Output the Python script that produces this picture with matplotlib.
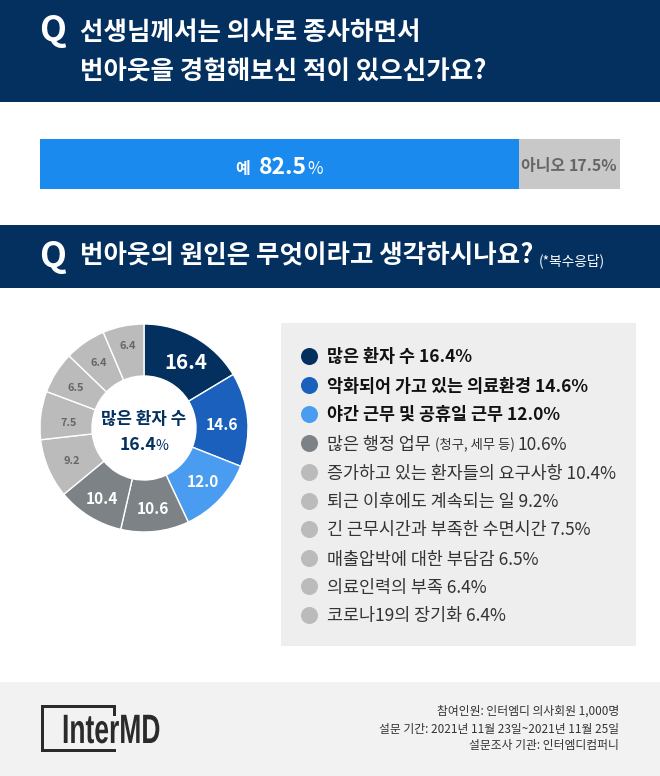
import matplotlib
matplotlib.use("Agg")
import matplotlib.pyplot as plt
from matplotlib.patches import Rectangle
from matplotlib.patheffects import AbstractPathEffect
from matplotlib.transforms import Affine2D

KR = ['Noto Sans CJK KR', 'DejaVu Sans']
plt.rcParams['font.family'] = KR

# ---- data ----
q1_lines = ["선생님께서는 의사로 종사하면서", "번아웃을 경험해보신 적이 있으신가요?"]
q2_title = "번아웃의 원인은 무엇이라고 생각하시나요?"
q2_note = "(*복수응답)"
bar_labels = ["예", "아니오"]
bar_values = [82.5, 17.5]
bar_colors = ["#1B8AEE", "#C8C8C8"]
cause_names = ["많은 환자 수", "악화되어 가고 있는 의료환경", "야간 근무 및 공휴일 근무", "많은 행정 업무",
               "증가하고 있는 환자들의 요구사항", "퇴근 이후에도 계속되는 일", "긴 근무시간과 부족한 수면시간",
               "매출압박에 대한 부담감", "의료인력의 부족", "코로나19의 장기화"]
cause_notes = ["", "", "", "(청구, 세무 등)", "", "", "", "", "", ""]
cause_values = [16.4, 14.6, 12.0, 10.6, 10.4, 9.2, 7.5, 6.5, 6.4, 6.4]
pie_colors = ["#03305F", "#1A60BC", "#4A9CF0", "#7C8285", "#7C8285",
              "#BBBBBB", "#BBBBBB", "#BBBBBB", "#BBBBBB", "#BBBBBB"]
dot_colors = ["#03305F", "#1A60BC", "#4A9CF0", "#7C8285", "#BBBBBB",
              "#BBBBBB", "#BBBBBB", "#BBBBBB", "#BBBBBB", "#BBBBBB"]
footer_lines = ["참여인원: 인터엠디 의사회원 1,000명", "설문 기간: 2021년 11월 23일~2021년 11월 25일", "설문조사 기관: 인터엠디컴퍼니"]

NAVY = "#03305F"
W, H = 660, 776
DPI = 100
PX = 72 / DPI

fig = plt.figure(figsize=(W / DPI, H / DPI), dpi=DPI, facecolor="white")
bg = fig.add_axes([0, 0, 1, 1], zorder=0)
bg.set_xlim(0, W); bg.set_ylim(H, 0); bg.axis("off")
fg = fig.add_axes([0, 0, 1, 1], zorder=10)
fg.set_xlim(0, W); fg.set_ylim(H, 0); fg.axis("off")


def rect(x0, y0, x1, y1, c, z=1):
    bg.add_patch(Rectangle((x0, y0), x1 - x0, y1 - y0, fc=c, ec="none", zorder=z))


rect(0, 0, W, 102, NAVY)
rect(0, 225, W, 288, NAVY)
rect(281, 323, 636, 646, "#EEEEEE")
rect(0, 682, W, H, "#F2F2F2")


def txt(x, y, s, px, c="white", w="normal", ha="left", va="center", **k):
    return fg.text(x, y, s, fontsize=px * PX, color=c, fontweight=w, ha=ha, va=va, **k)


def runs(x, y, parts, ha="left"):
    """parts: (string, px, colour, weight) drawn one after the other on a baseline."""
    r = fig.canvas.get_renderer()
    items = [txt(0, y, s, px, c, wt, va="baseline") for s, px, c, wt in parts]
    widths = [t.get_window_extent(r).width for t in items]
    cur = x - (sum(widths) / 2 if ha == "center" else sum(widths) if ha == "right" else 0)
    for t, wd in zip(items, widths):
        t.set_x(cur)
        cur += wd
    return items


class Squeeze(AbstractPathEffect):
    """Narrows a text horizontally around its left edge (for the condensed logo lettering)."""
    def __init__(self, sx, x_px):
        super().__init__()
        self.sx, self.x_px = sx, x_px

    def draw_path(self, renderer, gc, tpath, affine, rgbFace=None):
        a = affine + Affine2D().translate(-self.x_px, 0).scale(self.sx, 1).translate(self.x_px, 0)
        renderer.draw_path(gc, tpath, a, rgbFace)


# header texts
for y in (32, 258):
    txt(53, y - 1, "Q", 35, "white", "bold", ha="center")
txt(80, 32, q1_lines[0], 25.5, "white", "bold")
txt(80, 72, q1_lines[1], 25.5, "white", "bold")
txt(80, 256, q2_title, 25.5, "white", "bold")
txt(539, 261, q2_note, 13.8, "white")

# stacked bar
bax = fig.add_axes([40 / W, 1 - 189 / H, 580 / W, 50 / H], zorder=1)
left = 0
for v, c in zip(bar_values, bar_colors):
    bax.barh(0, v, left=left, height=1, color=c)
    left += v
bax.set_xlim(0, 100); bax.set_ylim(-0.5, 0.5); bax.axis("off")
txt(235, 174, bar_labels[0], 16, "white", "bold", va="baseline")
runs(259, 174, [(f"{bar_values[0]}", 23, "white", "bold"), ("%", 17, "white", "normal")])
runs(569, 171, [(bar_labels[1] + " ", 16, "#666666", "bold"),
                (f"{bar_values[1]}%", 16, "#666666", "bold")], ha="center")

# donut
R = 104
CX, CY = 144, 428
pad = 1.1
pax = fig.add_axes([(CX - pad * R) / W, 1 - (CY + pad * R) / H, 2 * pad * R / W, 2 * pad * R / H], zorder=2)
label_sizes = [20.5, 15.5, 15.5, 15.5, 15.5, 11, 11, 11, 11, 11]
label_colors = ["white"] * 5 + ["#666666"] * 5
label_dx = [3, -1, 1, 1, -1, 0, 3, -1, 0, 0]   # small nudges, px
label_dy = [3, 3, 0, 2, 4, 2, 5, 2, 0, -5]
wedges, labels = pax.pie(cause_values, colors=pie_colors, startangle=90, counterclock=False, radius=1,
                         labels=[f"{v:.1f}" for v in cause_values], labeldistance=0.76,
                         wedgeprops=dict(width=0.5, edgecolor="white", linewidth=1))
for lab, s, c, dx, dy in zip(labels, label_sizes, label_colors, label_dx, label_dy):
    lab.set_fontsize(s * PX); lab.set_color(c); lab.set_fontweight("bold")
    lab.set_ha("center"); lab.set_va("center")
    px_, py_ = lab.get_position()
    lab.set_position((px_ + dx / R, py_ - dy / R))
pax.set_xlim(-pad, pad); pax.set_ylim(-pad, pad)

txt(CX, 419, cause_names[0], 16.8, NAVY, "bold", ha="center")
runs(CX, 450, [(f"{cause_values[0]}", 17.5, NAVY, "bold"), ("%", 14, NAVY, "normal")], ha="center")

# legend
row_y = [356, 385, 414, 443, 472, 501, 529, 558, 586, 615]
for i, (name, note, v, c, y) in enumerate(zip(cause_names, cause_notes, cause_values, dot_colors, row_y)):
    bg.scatter([309], [y], s=(17 * PX) ** 2, color=c, zorder=3, linewidths=0)
    bold = i < 3
    wt = "bold" if bold else "normal"
    col = "#111111" if bold else "#333333"
    if note:
        parts = [(name + " ", 17.4, col, wt), (note + " ", 13.3, col, wt), (f"{v}%", 17.4, col, wt)]
    else:
        parts = [(f"{name} {v}%", 17.4, col, wt)]
    runs(327, y + 6.5, parts)

# footer
logo = "#2B2B2B"
rect(41, 705, 116, 708, logo, 3)
rect(41, 749, 116, 752, logo, 3)
rect(41, 705, 44, 752, logo, 3)
rect(113, 705, 116, 716, logo, 3)
mark = txt(62, 743, "InterMD", 41, logo, "bold", va="baseline", family="Liberation Sans")
mark.set_path_effects([Squeeze(0.645, 62)])
for s, y in zip(footer_lines, (711, 729, 746)):
    txt(619, y, s, 11.8, "#333333", ha="right")

fig.savefig("out.png", dpi=DPI)
